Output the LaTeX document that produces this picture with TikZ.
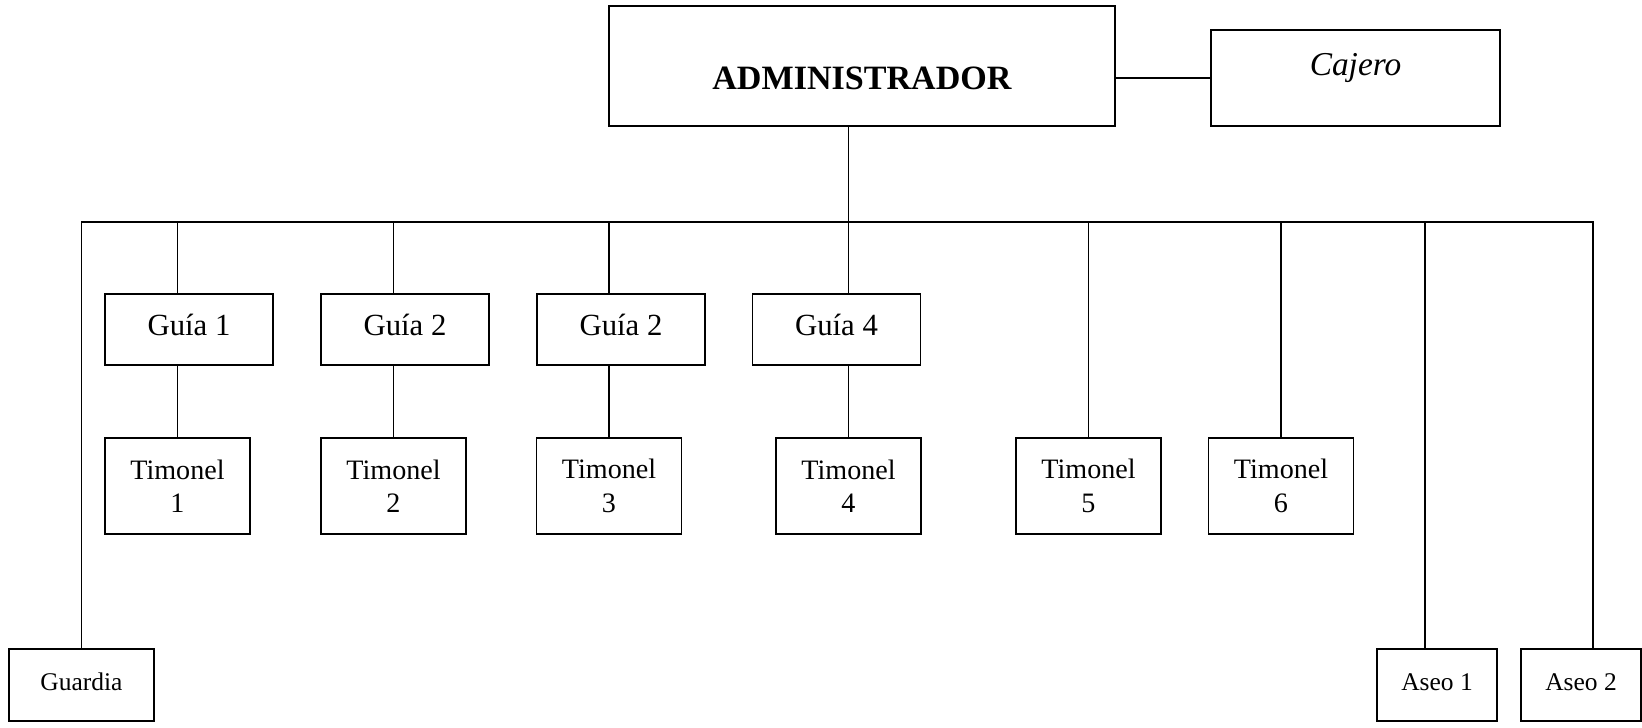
\documentclass[tikz,border=0pt]{standalone}
\usepackage{fontspec}
\setmainfont{Liberation Serif}
\usetikzlibrary{calc}

\begin{document}
\begin{tikzpicture}[
    box/.style={draw, rectangle, line width=1pt, inner sep=0pt, align=center},
    jefe/.style={box, font=\fontsize{19.4}{23}\selectfont\bfseries, minimum width=10.12cm, minimum height=2.4cm, text height=0.96cm, text depth=0pt},
    caja/.style={box, font=\fontsize{19}{23}\selectfont\itshape, minimum width=5.78cm, minimum height=1.92cm, text height=0.46cm, text depth=0.56cm},
    guia/.style={box, font=\fontsize{17.5}{21}\selectfont, minimum width=3.36cm, minimum height=1.42cm, text height=0.44cm, text depth=0.2cm},
    timonel/.style={box, font=\fontsize{16}{19}\selectfont, minimum width=2.9cm, minimum height=1.92cm},
    apoyo/.style={box, font=\fontsize{14.5}{17}\selectfont, minimum height=1.44cm, text height=0.35cm, text depth=0.12cm},
    linea/.style={line width=1pt}
]
\useasboundingbox (0,0) rectangle (32.84,-14.56);

\node[jefe] (admin) at (17.24,-1.32) {ADMINISTRADOR};
\node[caja] (cajero) at (27.11,-1.56) {Cajero};

\node[guia] (gui1) at (3.78,-6.59) {Guía 1};
\node[guia] (gui2) at (8.10,-6.59) {Guía 2};
\node[guia] (gui3) at (12.42,-6.59) {Guía 2};
\node[guia] (gui4) at (16.73,-6.59) {Guía 4};

\node[timonel] (tim1) at (3.55,-9.72) {Timonel\\1};
\node[timonel] (tim2) at (7.87,-9.72) {Timonel\\2};
\node[timonel] (tim3) at (12.18,-9.72) {Timonel\\3};
\node[timonel] (tim4) at (16.97,-9.72) {Timonel\\4};
\node[timonel] (tim5) at (21.77,-9.72) {Timonel\\5};
\node[timonel] (tim6) at (25.62,-9.72) {Timonel\\6};

\node[apoyo, minimum width=2.9cm] (guardia) at (1.63,-13.70) {Guardia};
\node[apoyo, minimum width=2.4cm] (aseo1) at (28.74,-13.70) {Aseo 1};
\node[apoyo, minimum width=2.4cm] (aseo2) at (31.62,-13.70) {Aseo 2};

\coordinate (bus) at (0,-4.44);
\coordinate (a1) at ($(aseo1.north)+(-0.24,0)$);
\coordinate (a2) at ($(aseo2.north)+(0.24,0)$);

% lineas principales
\draw[linea] (cajero.west -| admin.east) -- (cajero.west);
\draw[linea] (admin.south -| tim4) -- (tim4 |- bus);
\draw[linea] (guardia.north) -- (guardia.north |- bus) -- (a2 |- bus) -- (a2);

\foreach \i in {1,...,4} {
    \draw[linea] (tim\i |- bus) -- (gui\i.north -| tim\i);
    \draw[linea] (gui\i.south -| tim\i) -- (tim\i.north);
}
\foreach \i in {5,6} {
    \draw[linea] (tim\i |- bus) -- (tim\i.north);
}
\draw[linea] (a1 |- bus) -- (a1);

\end{tikzpicture}
\end{document}
